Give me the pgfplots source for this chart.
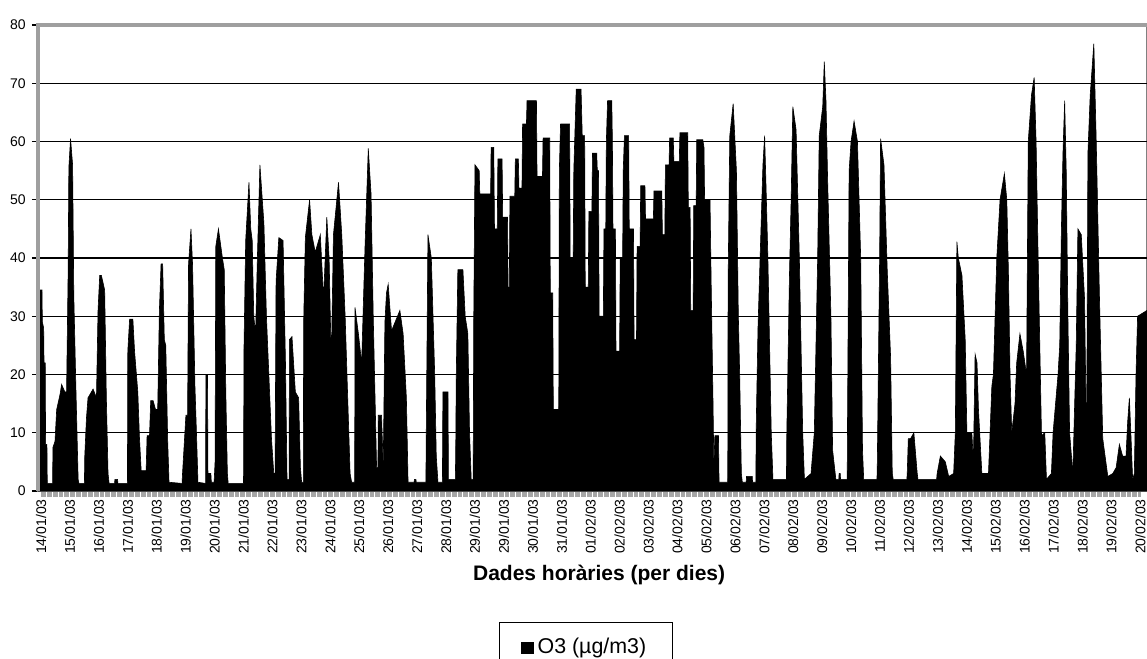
\documentclass[border=0pt]{standalone}
\usepackage{fontspec}
\setmainfont{Liberation Sans}
\usepackage{pgfplots}
\pgfplotsset{compat=1.18}

\begin{document}
\begin{tikzpicture}
\begin{axis}[
    scale only axis,
    width=554.5pt, height=233pt,
    xmin=-2.5, xmax=917.5,
    ymin=0, ymax=80,
    ytick={0,10,...,80},
    extra y ticks={10,20,...,70},
    extra y tick labels={},
    extra y tick style={grid=major, major tick length=0pt},
    grid style={black, line width=0.7pt},
    xtick={0,24,...,912},
    xticklabels={14/01/03,15/01/03,16/01/03,17/01/03,18/01/03,19/01/03,20/01/03,21/01/03,22/01/03,23/01/03,24/01/03,25/01/03,26/01/03,27/01/03,28/01/03,29/01/03,29/01/03,30/01/03,31/01/03,01/02/03,02/02/03,03/02/03,04/02/03,05/02/03,06/02/03,07/02/03,08/02/03,09/02/03,10/02/03,11/02/03,12/02/03,13/02/03,14/02/03,15/02/03,16/02/03,17/02/03,18/02/03,19/02/03,20/02/03},
    minor x tick num=23,
    tick pos=left,
    tick align=outside,
    x tick style={gray!70, line width=0.4pt},
    major tick length=3pt, minor tick length=3pt,
    y tick style={black, line width=0.6pt},
    xticklabel style={rotate=90, anchor=east, font=\fontsize{7}{8}\selectfont, inner sep=1pt},
    yticklabel style={font=\fontsize{7}{8}\selectfont, inner sep=1.5pt, xshift=-1.5pt},
    /pgf/number format/assume math mode=true,
    axis line style={gray, line width=1.4pt},
    xlabel={Dades horàries (per dies)},
    xlabel style={font=\fontsize{10.5}{12}\selectfont\bfseries, at={(axis description cs:0.506,-0.18)}, anchor=center},
    legend style={at={(0.494,-0.281)}, anchor=north, draw=black, line width=0.5pt,
        font=\fontsize{10.7}{12}\selectfont, inner xsep=11pt, inner ysep=6pt},
    legend image code/.code={\fill[black] (0pt,-2.9pt) rectangle (5.8pt,2.9pt);},
]
\addplot[fill=black, draw=black, line width=0.3pt] coordinates {
(-2.5,34.5) (0.8,34.5) (1.1,29) (2.2,28) (2.5,22) (3.5,22) (3.8,8) (4.9,8) (5.2,1.3)
(9.6,1.3) (9.9,7.5) (11.6,8.5) (13,14) (15.7,16.5) (17.1,18.3) (19.8,17) (21.2,17) (22.5,37.5) (23.1,55.5) (24.5,60.5) (26.2,56) (27.2,33.5) (28.9,18) (30.8,2) (31.5,1.3)
(36,1.3) (36.3,6) (37.7,12.5) (39,16) (43.2,17.5) (46,16) (47.3,31) (48.7,37) (50.1,37) (52.8,34.5) (54.2,16) (55.6,3) (56.5,1.3)
(61,1.3) (61.3,2) (63.5,2) (63.8,1.3)
(71.7,1.3) (72,24) (73.5,29.5) (76.2,29.5) (77.6,24) (80.3,17) (81.7,9) (83.1,3.5) (87.2,3.5)
(88,9.5) (90,9.5) (91,15.5) (93,15.5) (95,14) (96.8,14) (98.2,31) (99.6,39) (100.9,39) (102.3,26) (103.5,25) (105.1,8.5) (106.2,1.5)
(117,1.3) (117.4,3) (118.8,8) (120.2,13) (121.6,13) (122.4,39) (124.4,45) (125.7,39) (127.7,18) (128.8,11) (130.2,1.5)
(136.5,1.3) (136.8,20) (138.1,20) (138.5,3) (140.9,3) (141.3,1.5)
(143.6,1.5) (144.4,5) (145,42) (147.2,45) (150.5,40) (152,38) (153.3,17) (154.6,3) (155.3,1.3)
(168,1.3) (168.4,24.7) (169.8,43) (172.5,53) (174,45) (175.2,43) (176.5,30) (178,27) (179.5,40) (181.6,56) (184.9,46) (187,30) (189,20) (191.2,9) (193.1,3)
(194.2,3) (194.5,16) (195,36) (197.3,43.5) (200.8,43) (202.8,22) (204.1,2)
(205.8,2) (206.1,26) (208.2,26.5) (211,17) (213.7,16) (215.2,4) (216.2,1.5)
(217.6,1.5) (217.9,29) (219.3,43.5) (222.8,50) (224.7,44) (227.5,41) (231.7,44) (234.4,33) (237.1,47) (239,40) (240.8,22) (242.6,44) (246.8,53) (249.5,44) (252.3,30) (256.4,3) (257.7,1.5)
(260.2,1.5) (260.5,31.5) (263.3,27) (266,22) (268.8,42) (271.5,58.8) (273.8,51) (275.6,30) (278.4,4) (279.5,4) (279.8,13) (282.5,13) (283.9,4) (285.3,29) (286.6,34) (288,35.5) (290.8,27.5) (297.7,31) (300.4,27) (303.1,16) (304.5,1.5)
(309.5,1.5) (309.8,2) (311,2) (311.3,1.5)
(319.3,1.5) (319.6,10) (321,44) (323.8,40) (326.6,20) (327.9,6) (329.3,1.5)
(333,1.5) (333.4,17) (337.6,17) (338,2) (340.3,2)
(343.7,2) (344,6) (344.5,20) (345.8,38) (350,38) (351.9,30) (354.1,27) (355.5,10) (356.9,2) (358.5,2)
(359,30) (360,56) (363.5,55) (364,51) (368.9,51) (369.3,51) (373,51) (373.4,59) (375.6,59) (376.2,45) (378.5,45) (379,57) (382.5,57) (383,47) (387,47) (387.5,35) (388.5,35) (389,50.6) (393,50.6) (393.5,57) (396,57) (396.5,52) (399,52) (399.5,63) (402.7,63) (403.2,67) (411,67) (411.5,54) (416,54) (416.5,60.6) (422,60.6) (422.5,34) (424.5,34) (425,14) (429.5,14) (430,55) (431,63) (438.5,63) (439,40) (441.5,40) (442,55) (444,69) (448,69) (449,61) (451,61) (451.5,35) (454,35) (454.5,48) (457,48) (457.5,58) (461,58) (461.5,55) (462.5,55)
(463,30) (466.5,30) (467,45) (468.5,45) (469,60) (470,67) (473.5,67) (474,60) (474.5,45) (476.5,45) (477,24) (480,24) (480.5,40) (482.5,40) (483,55) (484,61) (487.5,61) (488,45) (491.5,45) (492,26) (494,26) (494.5,42) (497,42) (497.5,52.4) (501,52.4) (501.5,46.7) (508,46.7) (508.5,51.5) (515,51.5) (515.5,44) (517.5,44) (518,56) (521,56) (521.5,60.6) (524.5,60.6) (525,56.6) (529.5,56.6) (530,61.5) (536.5,61.5) (537,48.7) (538.5,48.7) (539,31) (541,31) (541.5,49) (543.5,49) (544,60.3) (549,60.3) (550,59) (550.5,50) (555,50) (556,35) (557.5,15) (558.2,4) (559,9.5) (562,9.5) (562.5,1.5)
(569.7,1.5) (570,36) (571.4,61) (574.2,66.5) (576.9,55) (578.5,30) (579.6,20) (581,3) (581.8,1.5)
(585,1.5) (585.3,2.5) (590,2.5) (590.3,1.5)
(593,1.5) (593.4,12) (594.8,28) (596.1,37) (598.9,56) (600.3,61) (601.5,52) (603,40) (605.8,10) (607.2,2)
(618.4,2) (618.7,10) (620.9,37) (622.3,50) (623.7,66) (626.4,62) (629.1,40) (631.9,10) (633.3,2)
(638.8,3) (641.5,10) (644.3,40) (645.6,61) (648.5,66) (649.8,73.7) (651.2,67) (652.5,54) (655.3,30) (656.7,7) (659.4,2) (661.8,2) (662.1,3) (663,3) (663.3,2)
(668.8,2) (669.1,13) (670.4,55) (672,60) (674.5,63.5) (677.3,60) (680,40) (681.5,7) (682.5,2)
(693.5,2) (693.8,5) (695.7,40) (696.5,60.5) (699.3,56) (702,38) (704.8,23) (706.2,3) (707,2)
(718.3,2) (718.6,3) (719.5,9) (721.4,9) (724.1,10) (726.9,3) (727.5,2)
(743,2) (743.4,3) (746.1,6) (750.2,5) (753,2.5) (757.1,3)
(758.5,10) (759.8,42.8) (761,40) (764,37) (766.7,26) (768.1,10) (772.2,10) (773.5,5) (774.9,23.5) (776.5,22) (777.7,14) (780.5,3)
(786,3) (788.8,18) (790.1,20) (791.5,30) (792.9,40) (795.6,50) (799.2,54.5) (801.2,50) (802.5,38) (803.9,20) (805.3,10) (808,15) (809.4,22) (812.1,27) (814.8,24) (817.6,20) (819,60) (821.7,68) (823.9,71) (825.5,60) (827.2,40) (830,9.5) (832.7,10) (834.1,2)
(838.2,3) (839.6,10) (843.7,20) (845.1,25) (846.5,45) (847.8,58) (849.2,67) (850.5,55) (851.9,30) (853.3,10) (856,3) (857.5,15) (858.8,25) (860.2,45) (863,44) (865.7,33) (867.4,7) (868.5,58) (870.4,68) (873.4,76.8) (875.4,60) (878.1,33) (880.8,9) (885,2.5) (889.1,3) (891.9,4) (894.6,8) (897.3,6) (900.1,6) (901.5,12) (902.9,16) (904.3,9) (905.6,2) (907,3) (908.4,20) (909.7,30) (917.5,31)
} \closedcycle;
\addlegendentry{O3 (µg/m3)}
\coordinate (pa) at (rel axis cs:0,0);
\coordinate (pb) at (rel axis cs:0,1);
\coordinate (pc) at (rel axis cs:1,1);
\end{axis}
% plot-area frame (left and top), gray band as in the scan
\fill[gray!75] ([xshift=-0.8pt]pa) rectangle ([xshift=0.8pt,yshift=0.8pt]pb);
\fill[gray!75] ([xshift=-0.8pt,yshift=-0.8pt]pb) rectangle ([yshift=0.8pt]pc);
\pgfresetboundingbox
\path (pa) ++(-19pt,-84pt) rectangle ++(573.5pt,329.5pt);
\end{tikzpicture}
\end{document}
